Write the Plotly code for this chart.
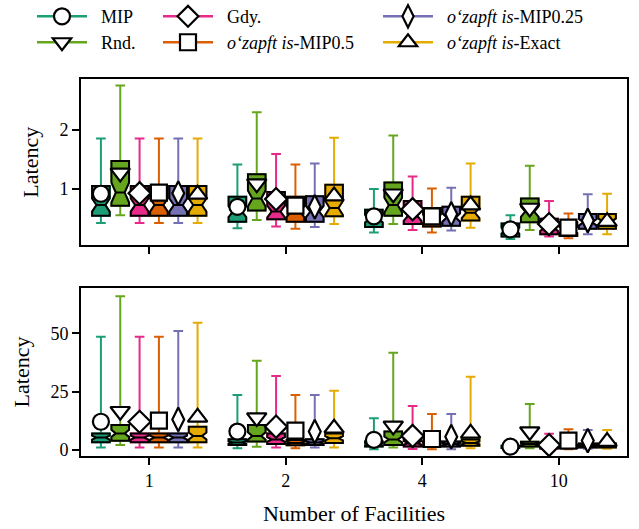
import numpy as np
import plotly.graph_objects as go

FACILITIES = ['1', '2', '4', '10']
SERIES = ['MIP', 'Rnd.', 'Gdy.',
          '<i>o‘zapft is</i>-MIP0.5',
          '<i>o‘zapft is</i>-MIP0.25',
          '<i>o‘zapft is</i>-Exact']
COLORS = ['#1b9e77', '#66a61e', '#e7298a', '#d95f02', '#7570b3', '#e6ab02']
SYMBOLS = ['circle', 'triangle-down', 'diamond', 'square', 'diamond-tall', 'triangle-up']
SIZES = [16, 17, 17, 16, 17, 17]
N_SAMPLES = 50  # used for notch size, as matplotlib does (1.57*IQR/sqrt(n))

# ---- top panel (series x facilities) ----
TOP_LO = [[0.43, 0.34, 0.27, 0.16],
          [0.56, 0.48, 0.41, 0.31],
          [0.43, 0.37, 0.31, 0.20],
          [0.43, 0.33, 0.27, 0.17],
          [0.43, 0.36, 0.30, 0.24],
          [0.43, 0.41, 0.35, 0.24]]
TOP_Q1 = [[0.55, 0.45, 0.36, 0.20],
          [0.72, 0.64, 0.55, 0.44],
          [0.55, 0.49, 0.41, 0.24],
          [0.55, 0.45, 0.37, 0.21],
          [0.55, 0.45, 0.38, 0.33],
          [0.55, 0.54, 0.47, 0.33]]
TOP_MED = [[0.73, 0.62, 0.50, 0.30],
           [0.94, 0.84, 0.73, 0.62],
           [0.73, 0.62, 0.55, 0.35],
           [0.73, 0.62, 0.50, 0.31],
           [0.73, 0.62, 0.52, 0.44],
           [0.73, 0.68, 0.60, 0.45]]
TOP_Q3 = [[1.05, 0.87, 0.65, 0.42],
          [1.47, 1.25, 1.11, 0.84],
          [1.05, 0.95, 0.80, 0.50],
          [1.05, 0.87, 0.68, 0.44],
          [1.05, 0.88, 0.70, 0.58],
          [1.05, 1.07, 0.87, 0.58]]
TOP_HI = [[1.85, 1.41, 1.00, 0.56],
          [2.74, 2.29, 1.90, 1.39],
          [1.85, 1.59, 1.21, 0.80],
          [1.85, 1.41, 1.01, 0.59],
          [1.85, 1.43, 1.02, 0.91],
          [1.85, 1.86, 1.43, 0.92]]
TOP_MEAN = [[0.92, 0.70, 0.54, 0.32],
            [1.27, 1.09, 0.92, 0.68],
            [0.93, 0.83, 0.66, 0.41],
            [0.94, 0.72, 0.54, 0.35],
            [0.93, 0.70, 0.58, 0.47],
            [0.91, 0.88, 0.73, 0.45]]

# ---- bottom panel ----
BOT_LO = [[1.0, 0.7, 0.3, 0.3],
          [2.1, 1.4, 1.0, 0.7],
          [1.0, 1.0, 0.4, 0.2],
          [1.0, 0.7, 0.3, 0.3],
          [1.0, 1.0, 0.3, 0.5],
          [1.0, 1.0, 0.7, 0.5]]
BOT_Q1 = [[3.3, 2.1, 1.5, 0.8],
          [3.9, 3.6, 2.1, 1.5],
          [3.3, 2.6, 1.5, 0.6],
          [3.3, 2.0, 1.5, 0.8],
          [3.3, 2.1, 1.5, 1.0],
          [3.3, 3.0, 1.8, 1.0]]
BOT_MED = [[5.3, 3.2, 2.5, 1.2],
           [7.1, 6.0, 4.5, 2.5],
           [5.3, 4.5, 3.0, 1.2],
           [5.3, 3.0, 2.5, 1.5],
           [5.3, 3.2, 2.5, 1.8],
           [6.0, 5.0, 3.0, 1.8]]
BOT_Q3 = [[7.1, 4.6, 3.6, 1.8],
          [10.7, 10.7, 7.9, 3.5],
          [7.1, 7.1, 5.0, 2.0],
          [7.1, 4.3, 3.6, 2.2],
          [7.1, 4.6, 3.6, 2.8],
          [10.0, 7.1, 4.5, 2.8]]
BOT_HI = [[48.6, 23.6, 13.6, 2.5],
          [66.0, 38.3, 41.7, 19.7],
          [48.6, 31.7, 18.9, 6.9],
          [48.6, 23.6, 15.4, 8.9],
          [51.0, 23.6, 15.4, 8.6],
          [54.6, 25.4, 31.4, 8.6]]
BOT_MEAN = [[12.1, 7.9, 4.3, 1.4],
            [16.6, 13.9, 10.3, 7.9],
            [12.1, 10.0, 6.0, 2.1],
            [12.6, 8.3, 4.7, 4.0],
            [13.1, 7.9, 5.7, 4.0],
            [14.0, 9.3, 7.1, 3.6]]

FONT = 'Liberation Serif'
fig = go.Figure()

panels = [('x', 'y', TOP_LO, TOP_Q1, TOP_MED, TOP_Q3, TOP_HI, TOP_MEAN),
          ('x2', 'y2', BOT_LO, BOT_Q1, BOT_MED, BOT_Q3, BOT_HI, BOT_MEAN)]

for xa, ya, LO, Q1, MED, Q3, HI, MEAN in panels:
    notch = [[float(v) for v in 1.57 * (np.array(Q3[i]) - np.array(Q1[i])) / np.sqrt(N_SAMPLES)]
             for i in range(6)]
    # coloured whiskers + caps
    for i in range(6):
        fig.add_trace(go.Box(
            x=FACILITIES, q1=Q1[i], median=MED[i], q3=Q3[i],
            lowerfence=LO[i], upperfence=HI[i],
            notched=True, notchspan=notch[i], notchwidth=0.25,
            line=dict(color=COLORS[i], width=2), fillcolor=COLORS[i],
            whiskerwidth=0.55, boxpoints=False, offsetgroup=str(i),
            xaxis=xa, yaxis=ya, showlegend=False, hoverinfo='skip'))
    # black outlined boxes
    for i in range(6):
        fig.add_trace(go.Box(
            x=FACILITIES, q1=Q1[i], median=MED[i], q3=Q3[i],
            lowerfence=Q1[i], upperfence=Q3[i],
            notched=True, notchspan=notch[i], notchwidth=0.25,
            line=dict(color='black', width=2), fillcolor=COLORS[i],
            whiskerwidth=0, boxpoints=False, offsetgroup=str(i),
            xaxis=xa, yaxis=ya, showlegend=False, hoverinfo='skip'))
    # mean markers
    for i in range(6):
        fig.add_trace(go.Scatter(
            x=FACILITIES, y=MEAN[i], mode='markers', offsetgroup=str(i),
            marker=dict(symbol=SYMBOLS[i], size=SIZES[i], color='white',
                        line=dict(color='black', width=2.2)),
            xaxis=xa, yaxis=ya, showlegend=False, hoverinfo='skip'))

# legend entries: one small legend per entry (placed outside the visible y-range)
LEGEND_IDS = ['legend', 'legend2', 'legend3', 'legend4', 'legend5', 'legend6']
for i in range(6):
    fig.add_trace(go.Scatter(
        x=[FACILITIES[0]], y=[-100], mode='lines+markers',
        name='\u2002' + SERIES[i],
        legend=LEGEND_IDS[i], offsetgroup=str(i),
        line=dict(color=COLORS[i], width=2.5),
        marker=dict(symbol=SYMBOLS[i], size=SIZES[i], color='white',
                    line=dict(color='black', width=2.2)),
        xaxis='x', yaxis='y', hoverinfo='skip'))

W, H = 639, 529
ML, MR, MT, MB = 81, 12, 79, 72.5
PW, PH = W - ML - MR, H - MT - MB

ax_common = dict(type='category', categoryorder='array', categoryarray=FACILITIES,
                 range=[-0.5, 3.5], showline=True, mirror=True, linecolor='black',
                 linewidth=2, ticks='outside', ticklen=7, tickwidth=1.5,
                 tickcolor='black', showgrid=False, zeroline=False, automargin=False)
ay_common = dict(showline=True, mirror=True, linecolor='black', linewidth=2,
                 ticks='outside', ticklen=7, tickwidth=1.5, tickcolor='black',
                 showgrid=False, zeroline=False, automargin=False)

leg_common = dict(orientation='v', xanchor='left', yanchor='top',
                  bgcolor='rgba(0,0,0,0)', itemwidth=50,
                  font=dict(family=FONT, size=18, color='black'))

def lx(px):
    return (px - ML) / PW

def ly(py):
    return (H - MB - py) / PH

COL_X = [32, 32, 158, 158, 378, 378]
ROW_Y = [-2, 24, -2, 24, -2, 24]
legends = {LEGEND_IDS[i]: dict(leg_common, x=lx(COL_X[i]), y=ly(ROW_Y[i]))
           for i in range(6)}

fig.update_layout(
    width=W, height=H,
    margin=dict(l=ML, r=MR, t=MT, b=MB, autoexpand=False),
    paper_bgcolor='white', plot_bgcolor='white',
    font=dict(family=FONT, size=18, color='black'),
    boxmode='group', boxgap=0.15, boxgroupgap=0.09,
    scattermode='group', scattergap=0.15,
    xaxis=dict(ax_common, anchor='y', domain=[0, 1], showticklabels=False),
    xaxis2=dict(ax_common, anchor='y2', domain=[0, 1],
                title=dict(text='Number of Facilities', standoff=16)),
    yaxis=dict(ay_common, anchor='x', domain=[0.5584, 1], range=[0.05, 2.85],
               tickvals=[1, 2], title=dict(text='Latency')),
    yaxis2=dict(ay_common, anchor='x2', domain=[0, 0.4456], range=[-2.6, 69.5],
                tickvals=[0, 25, 50], title=dict(text='Latency')),
    **legends,
)

fig.write_html('out.html')
